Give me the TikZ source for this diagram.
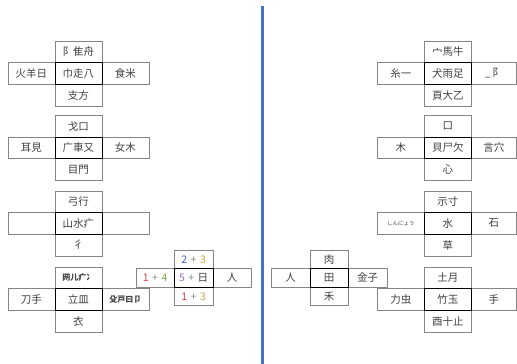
\documentclass[tikz,border=0pt]{standalone}
\usepackage{fontspec}
\newfontfamily\jp{Noto Sans CJK JP}
\definecolor{cellgray}{HTML}{858585}
\definecolor{txt}{HTML}{404040}
\definecolor{nred}{HTML}{E84040}
\definecolor{ngreen}{HTML}{7DAE4F}
\definecolor{nblue}{HTML}{4A5FD9}
\definecolor{ngold}{HTML}{CFA43C}
\definecolor{npurple}{HTML}{9470C0}
\definecolor{divblue}{HTML}{4472C4}
\def\cw{47}\def\ch{21.7}
\newcommand\crossgrp[9]{%
  \node[cell,minimum width=\cw pt,minimum height=\ch pt] (#1t) at (#2,#3) {#4};
  \node[cell,minimum width=\cw pt,minimum height=\ch pt] (#1l) at ({#2-\cw},{#3+\ch}) {#5};
  \node[cell,minimum width=#9 pt,minimum height=\ch pt] (#1r) at ({#2+\cw},{#3+\ch}) {#7};
  \node[cell,minimum width=\cw pt,minimum height=\ch pt] (#1b) at (#2,{#3+2*\ch}) {#8};
  \node[cell,draw=black,minimum width=\cw pt,minimum height=\ch pt] (#1c) at (#2,{#3+\ch}) {#6};
}
\newcommand\tinyjp{\fontsize{5.5}{6}\selectfont}
\newcommand\smb{\bfseries\fontsize{8}{9}\selectfont}
\newcommand\pl{\textcolor{cellgray}{\hspace{3.5pt}+\hspace{3.5pt}}}
\begin{document}
\begin{tikzpicture}[x=1pt,y=-1pt,
  cell/.style={draw=cellgray, line width=0.7pt, anchor=north west, inner sep=0pt,
    font=\jp\fontsize{10.5}{12}\selectfont, text=txt}]
\fill[white] (0,0) rectangle (517,364);
\useasboundingbox (0,0) rectangle (517,364);
% divider
\draw[divblue, line width=2.2pt] (262.5,6) -- (262.5,364);
% left groups
\crossgrp{La}{54.5}{40.5}{阝隹舟}{火羊日}{巾走八}{食米}{支方}{47}
\crossgrp{Lb}{54.5}{115}{戈口}{耳見}{广車又}{女木}{目門}{47}
\crossgrp{Lc}{54.5}{190.5}{弓行}{}{山水疒}{}{彳}{47}
\crossgrp{Ld}{54.5}{266.5}{\smb 网儿疒冫}{刀手}{立皿}{\smb 殳戸曰卩}{衣}{47}
% right groups
\crossgrp{Ra}{424}{40.5}{宀馬牛}{糸一}{犬雨足}{\_\,阝}{頁大乙}{45}
\crossgrp{Rb}{424}{115}{口}{木}{貝尸欠}{言穴}{心}{45}
\crossgrp{Rc}{424}{190.5}{示寸}{\tinyjp しんにょう}{水}{石}{草}{45}
\crossgrp{Rd}{424}{266.5}{土月}{力虫}{竹玉}{手}{酉十止}{45}
% middle groups
\def\cw{38.5}\def\ch{18.4}
\crossgrp{Ma}{174}{250}{\textcolor{nblue}{2}\pl\textcolor{ngold}{3}}{\textcolor{nred}{1}\pl\textcolor{ngreen}{4}}{\textcolor{npurple}{5}\pl 日}{人}{\textcolor{nred}{1}\pl\textcolor{ngold}{3}}{38.5}
\crossgrp{Mb}{309.5}{250}{肉}{人}{田}{金子}{禾}{38.5}
\end{tikzpicture}
\end{document}
